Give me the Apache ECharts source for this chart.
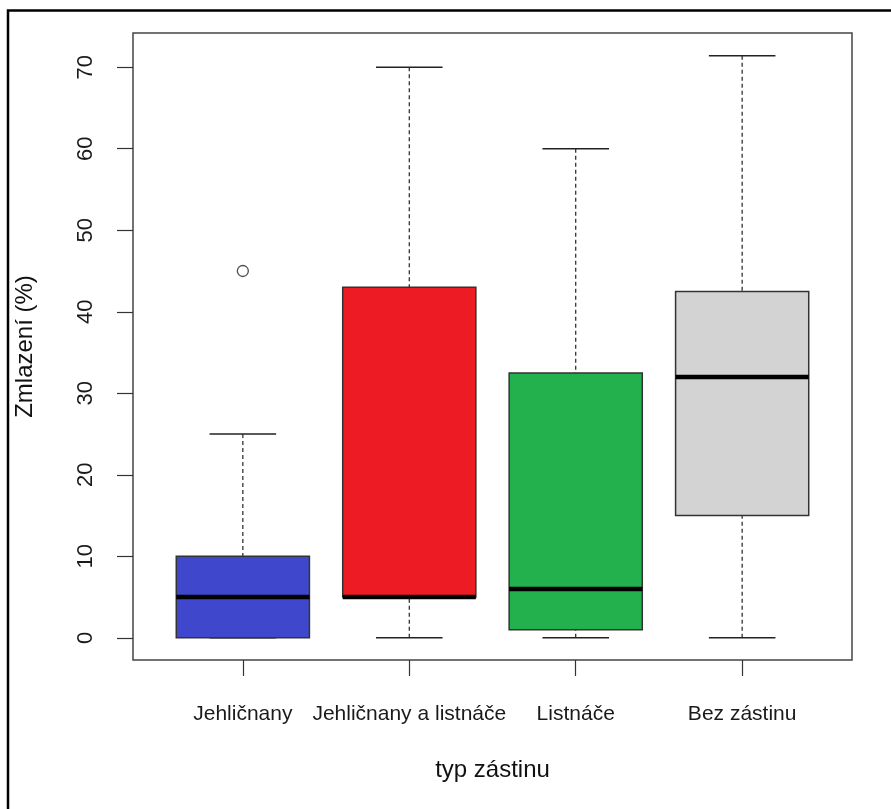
<!DOCTYPE html>
<html>
<head>
<meta charset="utf-8">
<script src="https://cdn.jsdelivr.net/npm/echarts@6/dist/echarts.min.js"></script>
<style>
  html, body { margin: 0; padding: 0; background: #fff; }
  #chart { width: 891px; height: 809px; }
</style>
</head>
<body>
<div id="chart"></div>
<script>
// ---- data ----
const categories = ['Jehličnany', 'Jehličnany a listnáče', 'Listnáče', 'Bez zástinu'];
const whiskerLow = [0, 0, 0, 0];
const q1 = [0, 5, 1, 15];
const median = [5, 5, 6, 32];
const q3 = [10, 43, 32.5, 42.5];
const whiskerHigh = [25, 70, 60, 71.4];
const outlierCategory = [1];
const outlierValue = [45];
const boxColors = ['#3F48CC', '#ED1C24', '#22B14C', '#D3D3D3'];
const yTicks = [0, 10, 20, 30, 40, 50, 60, 70];
const xTicks = [1, 2, 3, 4];

const boxData = categories.map((c, i) => [i + 1, whiskerLow[i], q1[i], median[i], q3[i], whiskerHigh[i], i]);
const outlierData = outlierCategory.map((c, i) => [c, outlierValue[i]]);

const chart = echarts.init(document.getElementById('chart'), null, { renderer: 'canvas' });

function renderBox(params, api) {
  const x = api.value(0);
  const lo = api.coord([x, api.value(1)]);
  const b1 = api.coord([x, api.value(2)]);
  const md = api.coord([x, api.value(3)]);
  const b3 = api.coord([x, api.value(4)]);
  const hi = api.coord([x, api.value(5)]);
  const idx = api.value(6);
  const boxW = api.size([0.8, 0])[0];
  const capW = api.size([0.4, 0])[0];
  const cx = lo[0];
  const dash = { stroke: '#222', lineWidth: 1.2, lineDash: [4, 3] };
  const solid = { stroke: '#222', lineWidth: 1.5 };
  return {
    type: 'group',
    children: [
      { type: 'line', shape: { x1: cx, y1: hi[1], x2: cx, y2: b3[1] }, style: dash },
      { type: 'line', shape: { x1: cx, y1: lo[1], x2: cx, y2: b1[1] }, style: dash },
      { type: 'line', shape: { x1: cx - capW / 2, y1: hi[1], x2: cx + capW / 2, y2: hi[1] }, style: solid },
      { type: 'line', shape: { x1: cx - capW / 2, y1: lo[1], x2: cx + capW / 2, y2: lo[1] }, style: solid },
      { type: 'rect', shape: { x: cx - boxW / 2, y: b3[1], width: boxW, height: b1[1] - b3[1] },
        style: { fill: boxColors[idx], stroke: '#333', lineWidth: 1.5 } },
      { type: 'line', shape: { x1: cx - boxW / 2, y1: md[1], x2: cx + boxW / 2, y2: md[1] },
        style: { stroke: '#000', lineWidth: 4.5 } }
    ]
  };
}

const option = {
  animation: false,
  backgroundColor: '#fff',
  textStyle: { fontFamily: 'Liberation Sans, Arial, sans-serif' },
  grid: { left: 133, top: 33, width: 719, height: 627, show: true, borderColor: '#444', borderWidth: 1.5, backgroundColor: 'transparent' },
  xAxis: {
    type: 'value', min: 0.34, max: 4.66,
    name: 'typ zástinu', nameLocation: 'middle', nameGap: 98,
    nameTextStyle: { fontSize: 24, color: '#111' },
    axisLine: { show: false, onZero: false },
    splitLine: { show: false },
    axisTick: { show: true, length: 16, customValues: xTicks, lineStyle: { color: '#333', width: 1.2 } },
    axisLabel: { customValues: xTicks, margin: 44, fontSize: 21, color: '#1a1a1a',
      formatter: v => categories[Math.round(v) - 1] || '' }
  },
  yAxis: {
    type: 'value', min: -2.72, max: 74.2,
    name: 'Zmlazení (%)', nameLocation: 'middle', nameGap: 96, nameRotate: 90,
    nameTextStyle: { fontSize: 24, color: '#111' },
    axisLine: { show: false, onZero: false },
    splitLine: { show: false },
    axisTick: { show: true, length: 16, customValues: yTicks, lineStyle: { color: '#333', width: 1.2 } },
    axisLabel: { customValues: yTicks, rotate: 90, margin: 36, fontSize: 22, color: '#1a1a1a' }
  },
  graphic: [
    { type: 'rect', shape: { x: 8, y: 10.5, width: 1000, height: 1000 },
      style: { fill: 'none', stroke: '#000', lineWidth: 2.5 }, silent: true, z: 100 }
  ],
  series: [
    { type: 'custom', renderItem: renderBox, data: boxData, encode: { x: 0, y: [1, 2, 3, 4, 5] }, clip: false },
    { type: 'scatter', data: outlierData, symbol: 'circle', symbolSize: 11,
      itemStyle: { color: '#fff', borderColor: '#222', borderWidth: 1.3 } }
  ]
};
chart.setOption(option);
</script>
</body>
</html>
